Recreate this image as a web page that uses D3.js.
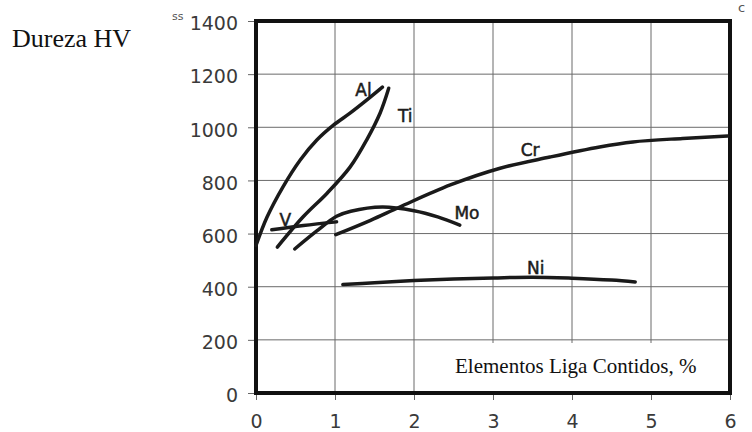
<!DOCTYPE html>
<html>
<head>
<meta charset="utf-8">
<script src="https://cdn.jsdelivr.net/npm/d3@7"></script>
<style>
    body { margin: 0; background: #fff; }
    #chart { width: 752px; height: 432px; }
    .tick text { font-family: "DejaVu Sans", sans-serif; font-size: 19px; fill: #3a3a3a; }
    .tick line { stroke: #666; }
    .curve-label { font-family: "DejaVu Sans", sans-serif; font-size: 17px; fill: #1c1c1c; stroke: #1c1c1c; stroke-width: 0.5px; }
</style>
</head>
<body>
<div id="chart"></div>
<script>
"use strict";

// x: alloying element content (%), y: hardness HV
const xTicks = [0, 1, 2, 3, 4, 5, 6];
const yTicks = [0, 200, 400, 600, 800, 1000, 1200, 1400];

const alX = [0, 0.14, 0.34, 0.56, 0.77, 0.98, 1.19, 1.4, 1.6];
const alY = [555, 662, 775, 877, 952, 1008, 1053, 1102, 1151];

const tiX = [0.27, 0.6, 0.9, 1.19, 1.4, 1.57, 1.68];
const tiY = [549, 664, 752, 850, 952, 1053, 1147];

const vX = [0.2, 0.6, 1.02];
const vY = [614, 630, 644];

const moX = [0.49, 0.77, 1.02, 1.2, 1.6, 2.0, 2.3, 2.58];
const moY = [542, 610, 665, 684, 700, 686, 663, 632];

const crX = [1.01, 1.45, 1.82, 2.46, 3.09, 3.72, 4.35, 4.77, 5.4, 5.97];
const crY = [596, 650, 700, 783, 846, 888, 926, 945, 958, 967];

const niX = [1.1, 1.5, 2.0, 2.5, 3.0, 3.5, 4.0, 4.5, 4.8];
const niY = [408, 415, 423, 429, 433, 436, 432, 425, 418];

const names = ["Al", "Ti", "V", "Mo", "Cr", "Ni"];
// where each name is written, in data units
const labelX = [1.36, 1.89, 0.37, 2.67, 3.47, 3.54];
const labelY = [1140, 1042, 650, 678, 914, 470];

const series = [
    [alX, alY], [tiX, tiY], [vX, vY], [moX, moY], [crX, crY], [niX, niY]
];

const svg = d3.select("#chart")
    .append("svg")
    .attr("width", 752)
    .attr("height", 432);

const x = d3.scaleLinear().domain([0, 6]).range([256, 730]);
const y = d3.scaleLinear().domain([0, 1400]).range([393, 21]);

// grid
svg.append("g").selectAll("line")
    .data(xTicks.slice(1, -1))
    .enter().append("line")
    .attr("x1", d => x(d)).attr("x2", d => x(d))
    .attr("y1", y(0)).attr("y2", y(1400))
    .style("stroke", "#6a6a6a").style("stroke-width", 1);
svg.append("g").selectAll("line")
    .data(yTicks.slice(1, -1))
    .enter().append("line")
    .attr("x1", x(0)).attr("x2", x(6))
    .attr("y1", d => y(d)).attr("y2", d => y(d))
    .style("stroke", "#6a6a6a").style("stroke-width", 1);

// white box under the x title
svg.append("rect")
    .attr("x", 450).attr("y", 343)
    .attr("width", x(6) - 450).attr("height", y(0) - 343)
    .style("fill", "#fff");

// axes
const yAxis = svg.append("g")
    .attr("transform", "translate(" + x(0) + ",0)")
    .call(d3.axisLeft(y).tickValues(yTicks).tickFormat(d3.format("d"))
        .tickSize(8).tickPadding(10));
yAxis.select(".domain").remove();
yAxis.selectAll("text").attr("dy", "0.67em").attr("y", -4);

const xAxis = svg.append("g")
    .attr("transform", "translate(0," + y(0) + ")")
    .call(d3.axisBottom(x).tickValues(xTicks).tickFormat(d3.format("d"))
        .tickSize(7).tickPadding(15));
xAxis.select(".domain").remove();

// frame
svg.append("rect")
    .attr("x", x(0)).attr("y", y(1400))
    .attr("width", x(6) - x(0)).attr("height", y(0) - y(1400))
    .style("fill", "none")
    .style("stroke", "#111")
    .style("stroke-width", 4);

// curves
const line = d3.line()
    .x(d => x(d[0]))
    .y(d => y(d[1]))
    .curve(d3.curveCatmullRom.alpha(0.5));

svg.append("g").selectAll("path")
    .data(series.map(s => s[0].map((v, i) => [v, s[1][i]])))
    .enter().append("path")
    .attr("d", line)
    .style("fill", "none")
    .style("stroke", "#1a1a1a")
    .style("stroke-width", 3.5)
    .style("stroke-linecap", "round");

svg.append("g").selectAll("text")
    .data(names)
    .enter().append("text")
    .attr("class", "curve-label")
    .attr("x", (d, i) => x(labelX[i]))
    .attr("y", (d, i) => y(labelY[i]))
    .attr("dy", "0.36em")
    .attr("text-anchor", "middle")
    .text(d => d);

// titles
svg.append("text")
    .attr("x", 12).attr("y", 47)
    .style("font-family", "'Liberation Serif', 'Times New Roman', serif")
    .style("font-size", "26px")
    .style("fill", "#111")
    .text("Dureza HV");

svg.append("text")
    .attr("x", 455).attr("y", 373)
    .style("font-family", "'Liberation Serif', 'Times New Roman', serif")
    .style("font-size", "21px")
    .style("fill", "#111")
    .text("Elementos Liga Contidos, %");

// scan leftovers
svg.append("text")
    .attr("x", 172).attr("y", 20)
    .style("font-family", "'DejaVu Sans', sans-serif")
    .style("font-size", "11px")
    .style("fill", "#555")
    .text("ss");
svg.append("text")
    .attr("x", 738).attr("y", 12)
    .style("font-family", "'DejaVu Sans', sans-serif")
    .style("font-size", "13px")
    .style("fill", "#555")
    .text("c");
</script>
</body>
</html>
